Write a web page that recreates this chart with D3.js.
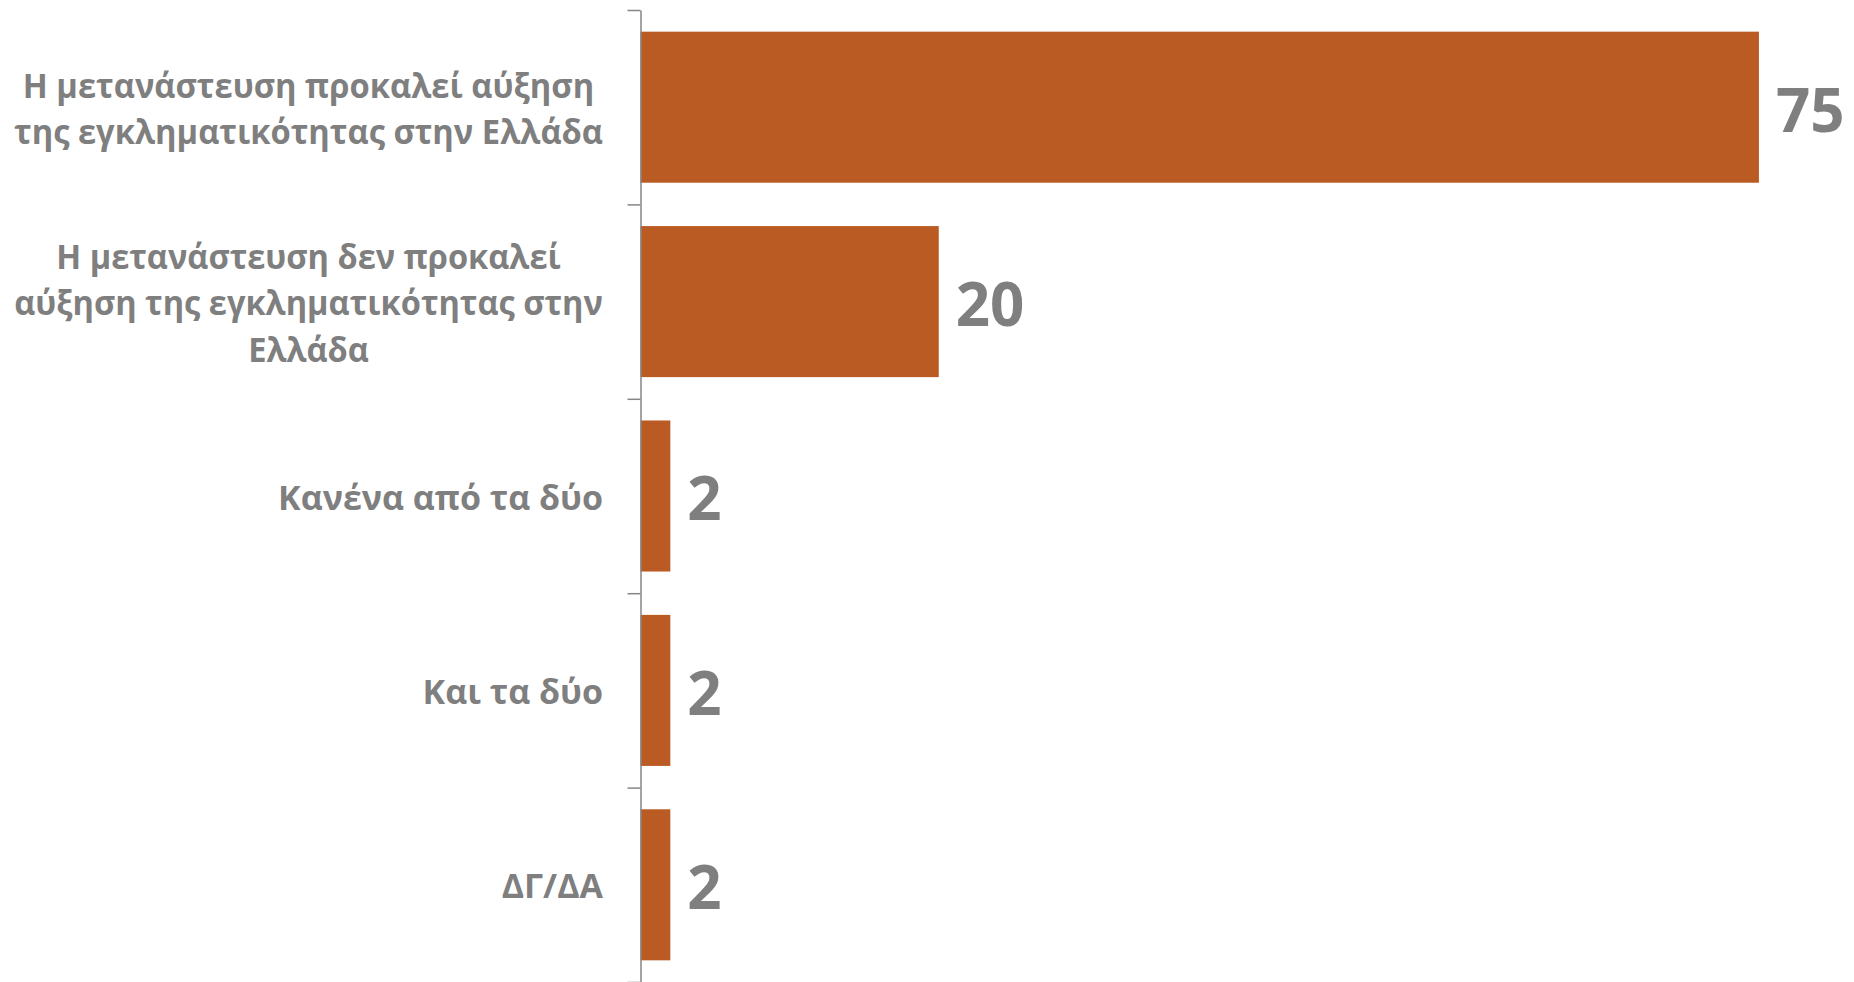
<!DOCTYPE html>
<html>
<head>
<meta charset="utf-8">
<script src="https://cdn.jsdelivr.net/npm/d3@7"></script>
<style>
    body { margin: 0; background: #fff; }
    svg { display: block; }
    .label, .value { font-family: "Open Sans", "Noto Sans", sans-serif; font-weight: bold; fill: #7f7f7f; }
</style>
</head>
<body>
<svg class="chart"></svg>
<script>

// categories (line breaks as in the original labels)
var categories = [
    "Η μετανάστευση προκαλεί αύξηση\nτης εγκληματικότητας στην Ελλάδα",
    "Η μετανάστευση δεν προκαλεί\nαύξηση της εγκληματικότητας στην\nΕλλάδα",
    "Κανένα από τα δύο",
    "Και τα δύο",
    "ΔΓ/ΔΑ"
];

// percentages
var values = [75, 20, 2, 2, 2];

var width = 1854,
    height = 982;

var svg = d3.select(".chart")
    .attr("width", width)
    .attr("height", height);

// scales
var x = d3.scaleLinear()
    .domain([0, 80])
    .range([640.5, 1833.5]);

var y = d3.scaleBand()
    .domain(categories)
    .range([10, 982])
    .paddingInner(0.223)
    .paddingOuter(0.1115);

// boundary scale for the category separators on the axis
var yEdge = d3.scaleLinear()
    .domain([0, categories.length])
    .range([10, 982]);

// draw bars
svg.selectAll("rect.bar")
    .data(values)
    .enter()
  .append("rect")
    .attr("class", "bar")
    .attr("x", x(0))
    .attr("y", function(d, i) { return y(categories[i]); })
    .attr("width", function(d) { return x(d) - x(0); })
    .attr("height", y.bandwidth())
    .attr("fill", "#b95b23");

// vertical axis with ticks between categories
var axis = svg.append("g")
    .attr("transform", "translate(" + x(0) + ",0)")
    .call(d3.axisLeft(yEdge)
        .tickValues(d3.range(categories.length + 1))
        .tickFormat("")
        .tickSize(13)
        .tickSizeOuter(0));

axis.select(".domain").attr("stroke", "#868686").attr("stroke-width", 1.5);
axis.selectAll(".tick line").attr("stroke", "#868686").attr("stroke-width", 1.5);

// value labels
var valueSize = 60;
svg.selectAll("text.value")
    .data(values)
    .enter()
  .append("text")
    .attr("class", "value")
    .attr("x", function(d) { return x(d) + 17; })
    .attr("y", function(d, i) { return y(categories[i]) + y.bandwidth() / 2 + valueSize * 0.357 + 3; })
    .style("font-size", valueSize + "px")
    .text(function(d) { return d; });

// category labels: centred lines, block right aligned, squeezed if too wide
var labelSize = 34,
    lineHeight = 46.5,
    labelRight = 603,
    labelMax = 589;

categories.forEach(function(c) {
    var lines = c.split("\n");
    var cy = y(c) + y.bandwidth() / 2;
    var g = svg.append("g");

    var texts = lines.map(function(line, j) {
        return g.append("text")
            .attr("class", "label")
            .attr("y", cy + (j - (lines.length - 1) / 2) * lineHeight + labelSize * 0.357 + 1.5)
            .attr("text-anchor", "middle")
            .style("font-size", labelSize + "px")
            .text(line);
    });

    var blockWidth = d3.max(texts, function(t) { return t.node().getComputedTextLength(); });
    var k = Math.min(1, labelMax / blockWidth);
    texts.forEach(function(t) { t.attr("x", -blockWidth / 2); });
    g.attr("transform", "translate(" + labelRight + ",0) scale(" + k + ",1)");
});

</script>
</body>
</html>
